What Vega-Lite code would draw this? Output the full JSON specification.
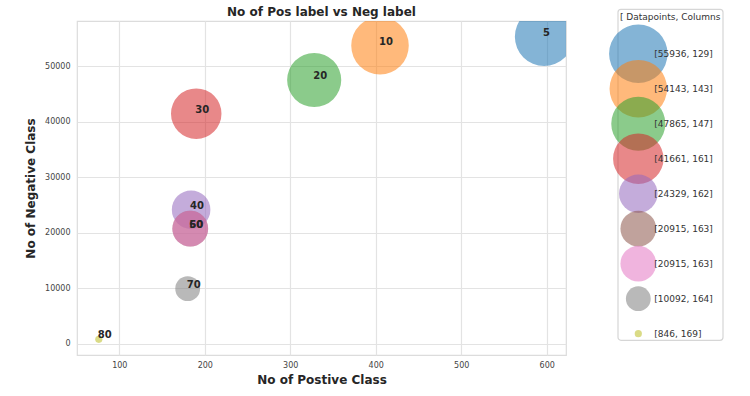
{
  "$schema": "https://vega.github.io/schema/vega-lite/v6.json",
  "padding": {"left": 23, "top": 5, "right": 5, "bottom": 5},
  "background": "white",
  "data": {"values": [
    {"label": "5", "pos": 597, "neg": 55339, "datapoints": 55936, "columns": 129, "legend": "[55936, 129]", "order": 1},
    {"label": "10", "pos": 405, "neg": 53738, "datapoints": 54143, "columns": 143, "legend": "[54143, 143]", "order": 2},
    {"label": "20", "pos": 328, "neg": 47537, "datapoints": 47865, "columns": 147, "legend": "[47865, 147]", "order": 3},
    {"label": "30", "pos": 190, "neg": 41471, "datapoints": 41661, "columns": 161, "legend": "[41661, 161]", "order": 4},
    {"label": "40", "pos": 184, "neg": 24145, "datapoints": 24329, "columns": 162, "legend": "[24329, 162]", "order": 5},
    {"label": "50", "pos": 183, "neg": 20732, "datapoints": 20915, "columns": 163, "legend": "[20915, 163]", "order": 6},
    {"label": "60", "pos": 183, "neg": 20732, "datapoints": 20915, "columns": 163, "legend": "[20915, 163]", "order": 7},
    {"label": "70", "pos": 180, "neg": 9912, "datapoints": 10092, "columns": 164, "legend": "[10092, 164]", "order": 8},
    {"label": "80", "pos": 76, "neg": 770, "datapoints": 846, "columns": 169, "legend": "[846, 169]", "order": 9}
  ]},
  "spacing": 42,
  "hconcat": [
    {
      "width": 489,
      "height": 334,
      "title": {"text": "No of Pos label vs Neg label", "fontSize": 12, "fontWeight": "bold", "color": "#262626", "offset": 2, "anchor": "middle"},
      "layer": [
        {
          "mark": {"type": "circle", "opacity": 0.55, "clip": true},
          "encoding": {
            "x": {"field": "pos", "type": "quantitative", "scale": {"domain": [50.5, 622.6], "nice": false, "zero": false}, "axis": {"title": "No of Postive Class", "values": [100, 200, 300, 400, 500, 600], "format": "d"}},
            "y": {"field": "neg", "type": "quantitative", "scale": {"domain": [-2058, 58177], "nice": false, "zero": false}, "axis": {"title": "No of Negative Class", "values": [0, 10000, 20000, 30000, 40000, 50000], "format": "d"}},
            "size": {"field": "datapoints", "type": "quantitative", "scale": {"type": "linear", "domain": [0, 55936], "range": [0, 3421]}, "legend": null},
            "color": {"field": "label", "type": "nominal", "scale": {"domain": ["5", "10", "20", "30", "40", "50", "60", "70", "80"], "range": ["#1f77b4", "#ff7f0e", "#2ca02c", "#d62728", "#9467bd", "#8c564b", "#e377c2", "#7f7f7f", "#bcbd22"]}, "legend": null}
          }
        },
        {
          "mark": {"type": "text", "align": "left", "baseline": "alphabetic", "dx": -1, "dy": -1, "fontSize": 10, "fontWeight": "bold", "color": "#262626"},
          "encoding": {
            "x": {"field": "pos", "type": "quantitative"},
            "y": {"field": "neg", "type": "quantitative"},
            "text": {"field": "label"}
          }
        }
      ]
    },
    {
      "width": 105,
      "height": 320,
      "view": {"stroke": null},
      "title": {"text": "[ Datapoints, Columns", "anchor": "start", "frame": "group", "offset": -13.5, "fontSize": 9, "fontWeight": "normal", "color": "#333333", "dx": 2},
      "layer": [
        {
          "transform": [{"filter": "datum.order == 1"}],
          "mark": {"type": "rect", "fill": null, "stroke": "#d6d6d6", "strokeWidth": 1.2, "cornerRadius": 3, "clip": false},
          "encoding": {
            "x": {"datum": -1, "type": "quantitative", "scale": {"domain": [-1, 4.17], "nice": false, "zero": false}, "axis": null},
            "x2": {"datum": 4.17},
            "y": {"datum": -0.2686, "type": "quantitative", "scale": {"domain": [0.0657, 9.2086], "nice": false, "zero": false, "reverse": true}, "axis": null},
            "y2": {"datum": 9.1886}
          }
        },
        {
          "mark": {"type": "circle", "opacity": 0.55},
          "encoding": {
            "x": {"datum": 0, "type": "quantitative"},
            "y": {"field": "order", "type": "quantitative"},
            "size": {"field": "datapoints", "type": "quantitative", "scale": {"type": "linear", "domain": [0, 55936], "range": [0, 3421]}, "legend": null},
            "color": {"field": "label", "type": "nominal", "scale": {"domain": ["5", "10", "20", "30", "40", "50", "60", "70", "80"], "range": ["#1f77b4", "#ff7f0e", "#2ca02c", "#d62728", "#9467bd", "#8c564b", "#e377c2", "#7f7f7f", "#bcbd22"]}, "legend": null}
          }
        },
        {
          "mark": {"type": "text", "align": "left", "baseline": "middle", "dx": 16, "fontSize": 9, "color": "#333333"},
          "encoding": {
            "x": {"datum": 0, "type": "quantitative"},
            "y": {"field": "order", "type": "quantitative"},
            "text": {"field": "legend"}
          }
        }
      ]
    }
  ],
  "config": {
    "font": "DejaVu Sans",
    "view": {"stroke": "#dcdcdc", "strokeWidth": 1.2},
    "axis": {"labelFont": "DejaVu Sans", "labelFontSize": 8, "labelColor": "#444444", "titleFont": "DejaVu Sans", "titleFontSize": 12, "titleFontWeight": "bold", "titleColor": "#262626", "gridColor": "#e3e3e3", "gridWidth": 1.2, "domain": false, "ticks": false, "labelPadding": 7, "titlePadding": 7},
    "axisX": {"labelPadding": 6, "titlePadding": 5},
    "title": {"font": "DejaVu Sans"},
    "text": {"font": "DejaVu Sans"}
  }
}
